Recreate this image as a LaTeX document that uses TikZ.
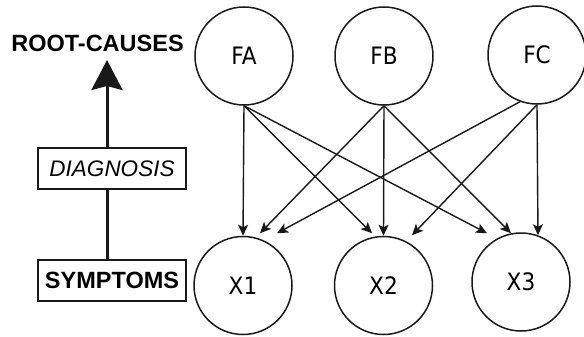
\documentclass[tikz,border=0pt]{standalone}
\usepackage{fontspec}
\setmainfont{Liberation Sans}
\newfontfamily\nodefont[FakeStretch=0.9]{DejaVu Sans}
\usetikzlibrary{arrows.meta}
\begin{document}
\begin{tikzpicture}[x=1pt,y=-1pt,
  var/.style={circle,draw=black!90,line width=1.5pt,minimum size=98pt,inner sep=0pt,
    font=\nodefont\fontsize{24}{28}\selectfont},
  lbox/.style={draw=black!90,line width=2.4pt,minimum width=147.5pt,minimum height=40.5pt,inner sep=0pt},
  link/.style={draw=black!90,line width=1.4pt,-{Stealth[length=11pt,width=10pt,inset=2.5pt]}},
  stem/.style={draw=black!90,line width=3pt},
  bigarrow/.style={stem,-{Stealth[length=30pt,width=31pt,inset=4pt]}}
]
\useasboundingbox (0,0) rectangle (584,337);
% variables
\node[var] (FA) at (244,56) {FA};
\node[var] (FB) at (384,56) {FB};
\node[var] (FC) at (537,55) {FC};
\node[var] (X1) at (243,285.5) {X1};
\node[var] (X2) at (383.5,285.5) {X2};
\node[var] (X3) at (521,282) {X3};
% left legend
\node[font=\bfseries\fontsize{23.5}{28}\selectfont,inner sep=0pt] (RC) at (97.5,43) {ROOT-CAUSES};
\node[lbox,font=\itshape\fontsize{22.5}{27}\selectfont] (DIAG) at (112,168.5) {DIAGNOSIS};
\node[lbox,font=\bfseries\fontsize{23.5}{28}\selectfont] (SYM) at (112,280.5) {SYMPTOMS};
\coordinate (tip) at (107,60);
\draw[stem] ([xshift=-5pt]SYM.north) -- ([xshift=-5pt]DIAG.south);
\draw[bigarrow] ([xshift=-5pt]DIAG.north) -- (tip);
% connectors
\draw[link] (FA.south) -- (X1.north);
\draw[link] (FA.south) -- ([xshift=-11.5pt,yshift=2.5pt]X2.north);
\draw[link] (FA.south) -- ([xshift=-34pt,yshift=-1pt]X3.north);
\draw[link] (FB.south) -- ([xshift=17pt,yshift=2.5pt]X1.north);
\draw[link] (FB.south) -- (X2.north);
\draw[link] (FB.south) -- ([xshift=-10pt,yshift=-1pt]X3.north);
\draw[link] (FC.250) -- ([xshift=34pt,yshift=2.5pt]X1.north);
\draw[link] (FC.south) -- ([xshift=28.5pt,yshift=0.5pt]X2.north);
\draw[link] (FC.south) -- ([xshift=17pt,yshift=-3pt]X3.north);
\end{tikzpicture}
\end{document}
